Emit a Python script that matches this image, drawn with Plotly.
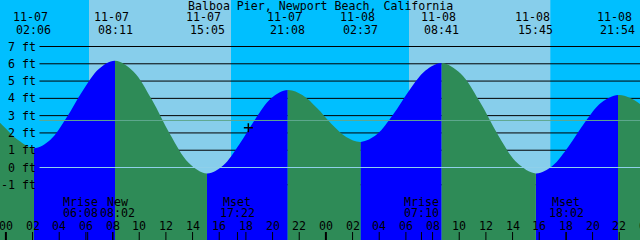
import plotly.graph_objects as go

TITLE = "Balboa Pier, Newport Beach, California"

# tide curve: hours since 11-07 00:00, height in ft
curve_t = [-2.54, -1.38, -0.22, 0.94, 2.10, 3.32, 4.53, 5.75, 6.97, 8.18,
           9.56, 10.94, 12.32, 13.70, 15.08, 16.29, 17.50, 18.71, 19.92, 21.13,
           22.23, 23.33, 24.42, 25.52, 26.62, 27.83, 29.04, 30.26, 31.47, 32.68,
           34.10, 35.51, 36.92, 38.34, 39.75, 40.98, 42.21, 43.44, 44.67, 45.90,
           46.73, 47.56, 48.60]
curve_h = [4.00, 3.30, 2.42, 1.57, 1.11, 1.59, 2.86, 4.43, 5.70, 6.18,
           5.56, 3.93, 1.91, 0.28, -0.34, 0.12, 1.33, 2.81, 4.02, 4.48,
           4.19, 3.44, 2.52, 1.77, 1.48, 1.92, 3.06, 4.47, 5.61, 6.05,
           5.44, 3.84, 1.87, 0.27, -0.34, 0.09, 1.23, 2.63, 3.76, 4.19,
           4.05, 3.67, 2.95]

# high / low tide events
event_date = ["11-07", "11-07", "11-07", "11-07", "11-08", "11-08", "11-08", "11-08"]
event_time = ["02:06", "08:11", "15:05", "21:08", "02:37", "08:41", "15:45", "21:54"]
event_kind = ["L", "H", "L", "H", "L", "H", "L", "H"]

# sunrise / sunset
sun_events = ["11-07 06:14", "11-07 16:53", "11-08 06:14", "11-08 16:50"]

# moon events
moon_label = ["Mrise", "New", "Mset", "Mrise", "Mset"]
moon_when = ["11-07 06:08", "11-07 08:02", "11-07 17:22", "11-08 07:10", "11-08 18:02"]

# current time marker
now_when = "11-07 18:11"
now_height = 2.30

level_ticks = [7, 6, 5, 4, 3, 2, 1, 0, -1]
msl_level = 2.72
hour_ticks = list(range(0, 50, 2))

# ---- style ----
NIGHT = "#00BFFF"
DAY = "#87CEEB"
EBB = "#2E8B57"
FLOOD = "#0000FF"
DATUM = "#8fd0ea"
MSL = "#5fa88f"
FONT = dict(family="DejaVu Sans Mono", size=11.6, color="black")

W, H = 640, 240
PX_PER_H = W / 48.0
T0 = -5.9 / PX_PER_H
T1 = T0 + 48.0
OFF = 5.0  # vertical offset so water can fill down to axis zero
Y_LO, Y_HI = -4.194 + OFF, 9.690 + OFF


def hrs(s):
    d, hm = s.split()
    day = int(d.split("-")[1])
    hh, mm = hm.split(":")
    return 24 * (day - 7) + int(hh) + int(mm) / 60.0


def py(pxl):
    return 1 - pxl / H


fig = go.Figure()

event_hours = [hrs(d + " " + t) for d, t in zip(event_date, event_time)]
bounds = [T0] + event_hours + [T1]
layout_axes = {}
for k in range(len(bounds) - 1):
    a, b = bounds[k], bounds[k + 1]
    if k < len(event_kind):
        col = FLOOD if event_kind[k] == "H" else EBB
    else:
        col = EBB if event_kind[-1] == "H" else FLOOD
    n = k + 2
    layout_axes[f"xaxis{n}"] = dict(domain=[(a - T0) / 48.0, (b - T0) / 48.0],
                                    range=[a, b], visible=False, anchor="y",
                                    fixedrange=True)
    fig.add_trace(go.Scatter(x=curve_t, y=[h + OFF for h in curve_h],
                             xaxis=f"x{n}", yaxis="y", mode="lines",
                             line=dict(shape="spline", width=0, color=col),
                             fill="tozeroy", fillcolor=col, hoverinfo="skip",
                             showlegend=False))

shapes = []
# daylight bands
for i in range(0, len(sun_events), 2):
    shapes.append(dict(type="rect", layer="below", xref="x", yref="paper",
                       x0=hrs(sun_events[i]), x1=hrs(sun_events[i + 1]), y0=0, y1=1,
                       fillcolor=DAY, line=dict(width=0)))
# level lines (below water)
for lv in level_ticks:
    if lv == 0:
        continue
    shapes.append(dict(type="line", layer="below", xref="paper", yref="y",
                       x0=39.5 / W, x1=1, y0=lv + OFF, y1=lv + OFF,
                       line=dict(color="black", width=1)))
# datum and MSL lines (above water)
shapes.append(dict(type="line", layer="above", xref="paper", yref="y",
                   x0=39.5 / W, x1=1, y0=0 + OFF, y1=0 + OFF,
                   line=dict(color=DATUM, width=1)))
shapes.append(dict(type="line", layer="above", xref="paper", yref="y",
                   x0=39.5 / W, x1=1, y0=msl_level + OFF, y1=msl_level + OFF,
                   line=dict(color=MSL, width=1)))
# hour ticks
for t in hour_ticks:
    wdt = 2 if t % 24 == 0 else 1
    shapes.append(dict(type="line", layer="above", xref="x", yref="paper",
                       x0=t, x1=t, y0=0, y1=8 / H,
                       line=dict(color="black", width=wdt)))
for mw in moon_when:
    t = hrs(mw)
    shapes.append(dict(type="line", layer="above", xref="x", yref="paper",
                       x0=t, x1=t, y0=0, y1=8 / H,
                       line=dict(color="black", width=1)))
# current time cross
nt = hrs(now_when)
shapes.append(dict(type="line", layer="above", xref="x", yref="y",
                   xsizemode="pixel", xanchor=nt, x0=-4.5, x1=4.5,
                   y0=now_height + OFF, y1=now_height + OFF,
                   line=dict(color="black", width=1.5)))
shapes.append(dict(type="line", layer="above", xref="x", yref="y",
                   ysizemode="pixel", yanchor=now_height + OFF, y0=-4.5, y1=4.5,
                   x0=nt, x1=nt, line=dict(color="black", width=1.5)))

ANN = dict(showarrow=False, font=FONT, borderpad=0, xanchor="center", yanchor="middle")
ann = []
ann.append(dict(text=TITLE, xref="paper", yref="paper", x=0.5, y=py(5.5), **ANN))
for t, d, tm in zip(event_hours, event_date, event_time):
    ann.append(dict(text=d, xref="x", yref="paper", x=t, xshift=-3.5, y=py(17.5), **ANN))
    ann.append(dict(text=tm, xref="x", yref="paper", x=t, y=py(29.5), **ANN))
for lv in level_ticks:
    a = dict(ANN)
    a["xanchor"] = "right"
    ann.append(dict(text=f"{lv} ft", xref="paper", yref="y", x=36.5 / W, y=lv + OFF, **a))
moon_shift = [-6.7, 4.3, 0, 0, 0]
for lab, mw, sh in zip(moon_label, moon_when, moon_shift):
    t = hrs(mw)
    ann.append(dict(text=lab, xref="x", yref="paper", x=t, xshift=sh, y=py(202), **ANN))
    ann.append(dict(text=mw.split()[1], xref="x", yref="paper", x=t, xshift=sh,
                    y=py(212.5), **ANN))
for t in hour_ticks:
    ann.append(dict(text=f"{t % 24:02d}", xref="paper", yref="paper", x=(t - T0) / 48.0,
                    y=py(226), **ANN))

fig.update_layout(
    width=W, height=H, margin=dict(l=0, r=0, t=0, b=0),
    paper_bgcolor=NIGHT, plot_bgcolor="rgba(0,0,0,0)",
    showlegend=False,
    xaxis=dict(domain=[0, 1], range=[T0, T1], visible=False, fixedrange=True, anchor="y"),
    yaxis=dict(domain=[0, 1], range=[Y_LO, Y_HI], visible=False, fixedrange=True, anchor="x"),
    shapes=shapes, annotations=ann,
    **layout_axes,
)

fig.write_html("out.html", config={"displayModeBar": False})
